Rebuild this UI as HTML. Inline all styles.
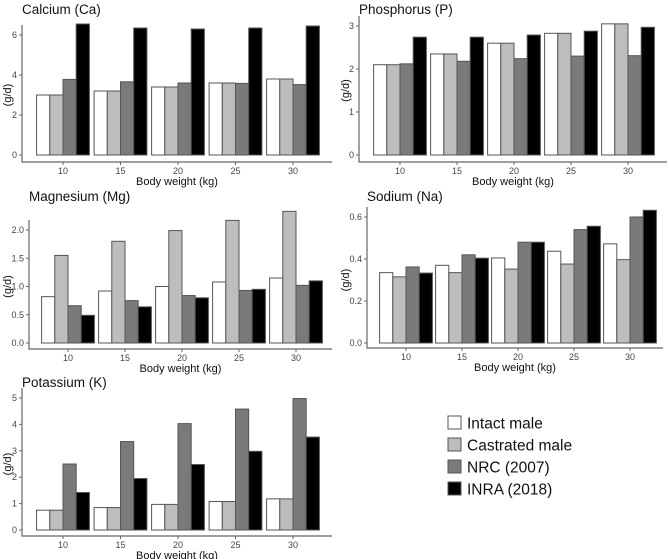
<!DOCTYPE html>
<html><head><meta charset="utf-8"><style>
body{margin:0;background:#fff;width:669px;height:559px;overflow:hidden}
svg{display:block;font-family:"Liberation Sans",sans-serif}
</style></head><body>
<svg id="chart" width="669" height="559" viewBox="0 0 669 559"></svg>
<script>
const categories = ["10","15","20","25","30"];
const seriesNames = ["Intact male","Castrated male","NRC (2007)","INRA (2018)"];
const caIntact = [3.0,3.2,3.4,3.6,3.8];
const caCastrated = [3.0,3.2,3.4,3.6,3.8];
const caNRC = [3.78,3.66,3.6,3.58,3.52];
const caINRA = [6.55,6.35,6.3,6.35,6.45];
const caTicks = [0,2,4,6];
const pIntact = [2.1,2.35,2.6,2.83,3.05];
const pCastrated = [2.1,2.35,2.6,2.83,3.05];
const pNRC = [2.12,2.18,2.24,2.3,2.31];
const pINRA = [2.74,2.74,2.79,2.88,2.97];
const pTicks = [0,1,2,3];
const mgIntact = [0.82,0.92,1.0,1.08,1.15];
const mgCastrated = [1.55,1.8,1.99,2.17,2.33];
const mgNRC = [0.66,0.75,0.84,0.93,1.02];
const mgINRA = [0.49,0.64,0.8,0.95,1.1];
const mgTicks = [0,0.5,1,1.5,2];
const mgTickLabels = ["0.0","0.5","1.0","1.5","2.0"];
const naIntact = [0.335,0.37,0.405,0.437,0.472];
const naCastrated = [0.315,0.335,0.352,0.376,0.397];
const naNRC = [0.362,0.42,0.48,0.54,0.6];
const naINRA = [0.333,0.404,0.48,0.556,0.632];
const naTicks = [0,0.2,0.4,0.6];
const naTickLabels = ["0.0","0.2","0.4","0.6"];
const kIntact = [0.75,0.85,0.97,1.08,1.18];
const kCastrated = [0.75,0.85,0.97,1.08,1.18];
const kNRC = [2.5,3.35,4.03,4.58,4.98];
const kINRA = [1.42,1.95,2.48,2.98,3.52];
const kTicks = [0,1,2,3,4,5];

const fills = ["#ffffff","#bdbdbd","#7a7a7a","#000000"];
const NS = "http://www.w3.org/2000/svg";
const svg = document.getElementById("chart");
function mk(tag, attrs, parent){const e=document.createElementNS(NS,tag);for(const k in attrs)e.setAttribute(k,attrs[k]);(parent||svg).appendChild(e);return e;}

function panel(key,title,series,ticks,tickLabels,g){
  const grp = mk("g",{});
  
  
  const y = v => g.y0 - v * (g.y0 - g.yTop) / g.vTop;
  const x = i => g.x10 + i * g.step;
  const t = mk("text",{x:g.left,y:g.titleY,"font-size":"13.5",fill:"#111"},grp);
  t.textContent = title;
  
  
  const bw = 13.2;
  series.forEach((vals,s)=>{
    vals.forEach((v,i)=>{
      const top = y(v);
      const r = mk("rect",{x:x(i)-2*bw+s*bw,y:top,width:bw,height:g.y0-top,fill:fills[s],stroke:"#555","stroke-width":"1"},grp);
      
      
    });
  });
  const ax = mk("path",{d:`M${g.left} ${g.yTop-10} V${g.axisY} H${g.right}`,fill:"none",stroke:"#666","stroke-width":"1.2"},grp);
  
  
  ticks.forEach((tv,j)=>{
    const yy = y(tv);
    mk("line",{x1:g.left-3,x2:g.left,y1:yy,y2:yy,stroke:"#666"},grp);
    const lb = mk("text",{x:g.left-5,y:yy+3,"font-size":"9","text-anchor":"end",fill:"#444"},grp);
    lb.textContent = tickLabels ? tickLabels[j] : String(tv);
    
    
  });
  categories.forEach((c,i)=>{
    mk("line",{x1:x(i),x2:x(i),y1:g.axisY,y2:g.axisY+3,stroke:"#666"},grp);
    const lb = mk("text",{x:x(i),y:g.axisY+12,"font-size":"9","text-anchor":"middle",fill:"#444"},grp);
    lb.textContent = c;
    
    
  });
  const xl = mk("text",{x:(g.left+g.right)/2,y:g.axisY+23,"font-size":"11","text-anchor":"middle",fill:"#111"},grp);
  xl.textContent = "Body weight (kg)";
  
  
  const cy = (g.yTop+g.y0)/2;
  const yl = mk("text",{x:g.ytx,y:cy,"font-size":"11","text-anchor":"middle",fill:"#111",transform:`rotate(-90 ${g.ytx} ${cy})`},grp);
  yl.textContent = "(g/d)";
  
  
}

panel("calcium","Calcium (Ca)",[caIntact,caCastrated,caNRC,caINRA],caTicks,null,
  {left:22,right:332,axisY:162,y0:155,yTop:35,vTop:6,x10:63,step:57.5,titleY:14,ytx:11});
panel("phosphorus","Phosphorus (P)",[pIntact,pCastrated,pNRC,pINRA],pTicks,null,
  {left:359,right:667,axisY:162,y0:155,yTop:26,vTop:3,x10:400,step:57,titleY:14,ytx:349});
panel("magnesium","Magnesium (Mg)",[mgIntact,mgCastrated,mgNRC,mgINRA],mgTicks,mgTickLabels,
  {left:29,right:332,axisY:349,y0:343,yTop:230,vTop:2,x10:68,step:57,titleY:201,ytx:11});
panel("sodium","Sodium (Na)",[naIntact,naCastrated,naNRC,naINRA],naTicks,naTickLabels,
  {left:367,right:663,axisY:348,y0:343,yTop:217,vTop:0.6,x10:406,step:56,titleY:201,ytx:349});
panel("potassium","Potassium (K)",[kIntact,kCastrated,kNRC,kINRA],kTicks,null,
  {left:22,right:332,axisY:536,y0:530,yTop:398,vTop:5,x10:63,step:57.5,titleY:387,ytx:11});

const leg = mk("g",{});


seriesNames.forEach((n,s)=>{
  const yy = 423 + s*22;
  const r = mk("rect",{x:448,y:yy-7,width:13,height:13,fill:fills[s],stroke:"#555","stroke-width":"1"},leg);
  
  
  const t = mk("text",{x:467,y:yy+5.5,"font-size":"15.5",fill:"#111"},leg);
  t.textContent = n;
  
  
});
</script>
</body></html>
